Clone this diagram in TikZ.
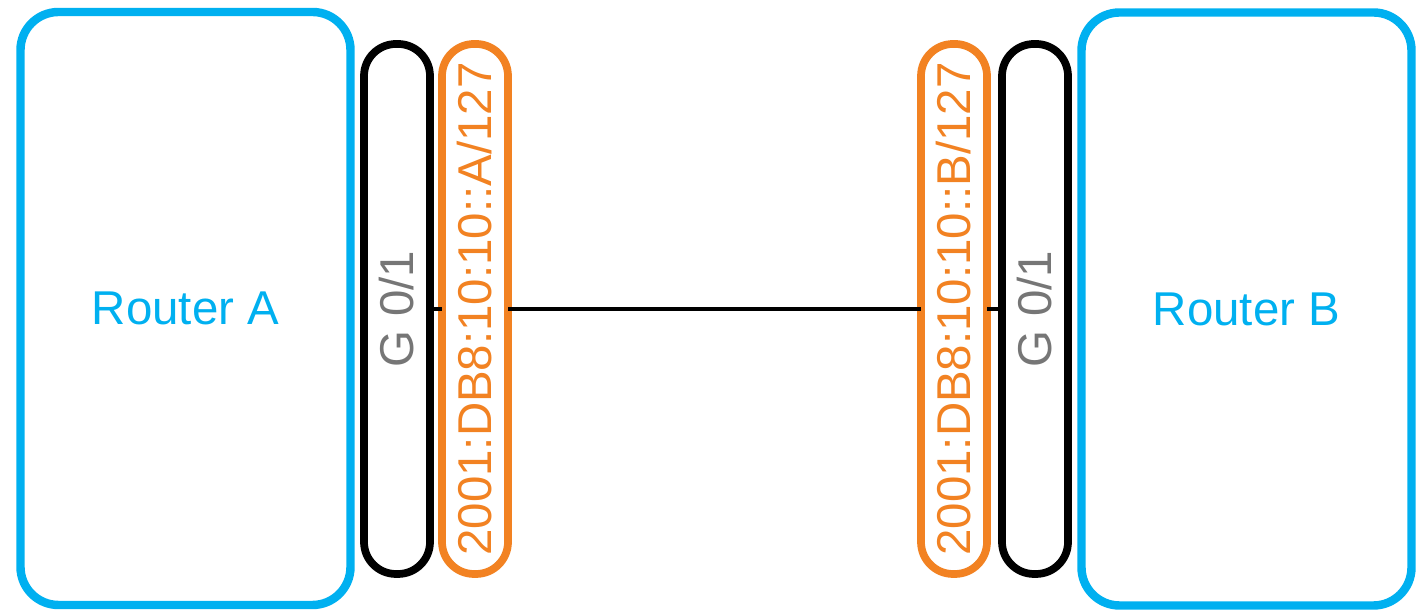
\documentclass[tikz,border=0pt]{standalone}
\usepackage{fontspec}
\setmainfont{Liberation Sans}
\definecolor{routerblue}{RGB}{0,176,240}
\definecolor{iporange}{RGB}{242,130,34}
\definecolor{portgray}{RGB}{118,118,118}
\begin{document}
\begin{tikzpicture}[
  router/.style={draw=routerblue, line width=2.4pt, rounded corners=0.38cm,
    minimum width=3.3cm, minimum height=5.93cm, inner sep=0pt, outer sep=0pt,
    text=routerblue},
  pill/.style={line width=2.2pt, fill=white, rounded corners=0.32cm, rotate=90,
    minimum width=5.3cm, minimum height=0.66cm, inner sep=0pt, outer sep=0pt},
  port/.style={pill, draw=black, text=portgray},
  addr/.style={pill, draw=iporange, text=iporange},
  font=\fontsize{13.5}{16}\selectfont]
\useasboundingbox (0,0) rectangle (14.23,6.10);
% routers
\node[router] (rA) at (1.855,3.015) {Router A};
\node[router] (rB) at (12.465,3.01) {Router B};
% interfaces
\node[port] (gA) at (3.97,3.01) {G 0/1};
\node[addr] (ipA) at (4.75,3.01) {2001:DB8:10:10::A/127};
\node[addr] (ipB) at (9.54,3.01) {2001:DB8:10:10::B/127};
\node[port] (gB) at (10.35,3.01) {G 0/1};
% link
\draw[line width=0.9pt] (gA) -- (ipA) (ipA) -- (ipB) (ipB) -- (gB);
\end{tikzpicture}
\end{document}
